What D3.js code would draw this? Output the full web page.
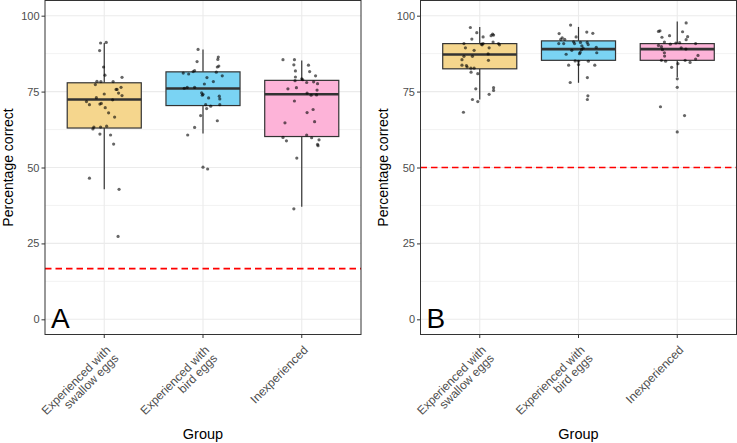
<!DOCTYPE html>
<html>
<head>
<meta charset="utf-8">
<script src="https://cdn.jsdelivr.net/npm/d3@7"></script>
<style>
  body { margin: 0; background: #fff; }
  svg { display: block; font-family: "Liberation Sans", Arial, sans-serif; }
</style>
</head>
<body>
<svg id="chart" width="737" height="443"></svg>
<script>
// groups and tick labels (each label split in lines)
const groups = ["swallow", "bird", "inexp"];
const groupLabels = [
  ["Experienced with", "swallow eggs"],
  ["Experienced with", "bird eggs"],
  ["Inexperienced"]
];
const fills = ["#F5D68D", "#7AD3F3", "#FDB3D8"];
const yTicks = [0, 25, 50, 75, 100];
const yMinor = [12.5, 37.5, 62.5, 87.5];

// chance level lines
const chanceA = 100 / 6;
const chanceB = 50;

// box stats: [lower whisker, q1, median, q3, upper whisker]
const boxA = [
  [42.8, 63.0, 72.4, 77.9, 91.0],
  [61.2, 70.4, 76.0, 81.5, 88.9],
  [37.1, 60.2, 74.1, 78.7, 85.2]
];
const boxB = [
  [72.4, 82.5, 87.2, 90.8, 96.3],
  [77.9, 85.3, 89.0, 91.7, 96.3],
  [79.8, 85.3, 89.0, 90.8, 98.1]
];

// jittered points: [horizontal jitter in category units, percentage correct]
const ptsA_swallow = [[-0.037,91.0],[0.02,91.2],[-0.047,88.5],[-0.007,83.1],[0.007,80.4],[0.18,79.7],
  [-0.074,78.4],[-0.034,78.3],[-0.09,77.3],[0.09,78.3],[0.17,76.4],[0.12,75.7],[0.13,75.7],[0.145,74.5],
  [0.18,73.7],[0,74.2],[-0.08,73.0],[-0.18,71.7],[-0.15,70.7],[-0.044,70.9],[-0.03,71.1],[0.085,72.3],
  [0.01,69.7],[0.044,68.0],[0.105,66.6],[-0.105,63.3],[-0.115,62.7],[-0.037,63.3],[0.024,63.6],
  [-0.044,61.0],[0.064,60.7],[0.095,57.7],[-0.15,46.5],[0.15,42.8],[0.14,27.3]];
const ptsA_bird = [[-0.05,88.9],[-0.06,84.9],[0.155,86.4],[0.15,85.6],[0.16,83.4],[0.145,83.1],
  [-0.2,81.1],[-0.145,80.8],[-0.085,81.9],[-0.1,81.6],[0.135,81.4],[0.195,80.2],[0.04,79.6],[0.105,78.3],
  [0.014,77.5],[-0.19,76.1],[-0.16,76.4],[-0.085,76.4],[-0.014,74.6],[0,74.1],[-0.007,73.8],[0.165,73.5],
  [0.17,72.6],[0.057,72.9],[0.027,70.7],[0.17,70.7],[0.078,70.2],[0.037,69.4],[-0.024,67.1],[0.145,65.4],
  [-0.085,63.2],[-0.155,60.7],[0,50.1],[0.047,49.5]];
const ptsA_inexp = [[-0.19,85.5],[-0.074,85.5],[-0.08,83.8],[-0.064,81.8],[0.068,83.7],[0.08,81.6],
  [-0.064,79.8],[-0.068,78.6],[0.14,80.2],[0,79.2],[0.01,78.9],[0.05,78.0],[0.12,78.2],[0.16,77.6],
  [-0.054,76.3],[-0.14,75.9],[0.155,75.5],[0.054,74.5],[0.095,73.8],[0.15,73.9],[-0.074,71.9],[0.115,69.1],
  [0.054,68.1],[0.13,65.1],[-0.17,64.7],[0.05,60.7],[-0.19,59.9],[-0.155,58.8],[0.1,59.8],[0.175,59.1],
  [0.16,57.6],[0.165,57.2],[-0.05,53.1],[-0.08,36.4]];

const ptsB_swallow = [[-0.095,96.1],[-0.03,94.4],[-0.08,92.3],[0.13,93.9],[0.14,93.6],[0.115,93.4],
  [0.034,93.0],[-0.16,90.8],[0.017,90.6],[0.034,90.8],[0.024,90.4],[0.135,91.3],[0.19,90.8],[0.2,90.4],
  [-0.145,89.4],[0.095,89.4],[-0.057,88.6],[0.085,87.4],[-0.16,86.6],[-0.18,85.5],[-0.074,86.6],[0.088,85.3],
  [-0.18,83.7],[-0.135,83.6],[-0.128,83.1],[-0.09,82.7],[-0.057,82.7],[-0.088,81.4],[-0.02,80.9],
  [-0.04,75.9],[0.14,76.3],[0.14,75.4],[0.095,74.1],[-0.074,72.4],[-0.02,71.7],[-0.165,68.2]];
const ptsB_bird = [[-0.08,96.9],[-0.196,94.1],[0.084,94.6],[0.145,94.2],[-0.165,92.7],[-0.18,92.2],
  [-0.14,92.2],[-0.024,93.0],[-0.2,90.8],[-0.15,90.8],[-0.05,91.4],[-0.04,90.8],[0.02,91.2],[0.088,91.2],
  [0.034,90.1],[0.03,88.8],[0.098,90.5],[0.18,89.6],[0.185,87.8],[0.047,89.3],[-0.068,88.6],[0.017,87.9],
  [0.01,87.5],[-0.125,87.3],[-0.034,85.1],[0,85.0],[0.1,85.0],[-0.1,83.7],[0,83.9],[0.165,83.7],
  [0.09,79.6],[-0.084,78.0],[0.095,73.6],[0.09,72.4]];
const ptsB_inexp = [[-0.175,95.0],[-0.19,94.8],[0.09,97.6],[-0.078,93.4],[-0.155,92.9],[0.105,93.1],
  [0.09,92.1],[0.054,94.7],[-0.13,91.3],[-0.19,90.2],[-0.16,89.8],[-0.07,90.6],[-0.014,91.0],[0.024,91.1],
  [0.04,89.4],[0.088,89.0],[0.186,90.8],[-0.15,88.8],[-0.13,87.8],[-0.128,86.7],[0.21,86.9],[0.186,85.7],
  [0.08,85.3],[-0.16,85.3],[-0.118,85.0],[0.13,84.6],[0.007,84.2],[-0.057,83.0],[0,79.2],[0,76.4],
  [-0.17,70.0],[0.074,67.1],[0,61.7]];

const svg = d3.select("#chart");

function drawPanel(opt) {
  const x = d3.scaleLinear().domain([0.4, 3.6]).range([opt.left, opt.right]);
  const y = d3.scaleLinear().domain([-5, 105]).range([opt.bottom, opt.top]);
  const g = svg.append("g");

  // grid
  g.selectAll(".minor").data(yMinor).join("line")
    .attr("x1", opt.left).attr("x2", opt.right)
    .attr("y1", d => y(d)).attr("y2", d => y(d))
    .attr("stroke", "#EBEBEB").attr("stroke-width", 0.6);
  g.selectAll(".major").data(yTicks).join("line")
    .attr("x1", opt.left).attr("x2", opt.right)
    .attr("y1", d => y(d)).attr("y2", d => y(d))
    .attr("stroke", "#EBEBEB").attr("stroke-width", 1.1);
  g.selectAll(".vmajor").data(groups).join("line")
    .attr("x1", (d, i) => x(i + 1)).attr("x2", (d, i) => x(i + 1))
    .attr("y1", opt.top).attr("y2", opt.bottom)
    .attr("stroke", "#EBEBEB").attr("stroke-width", 1.1);

  // boxes
  const bw = 0.75;
  opt.box.forEach((s, i) => {
    const cx = x(i + 1);
    g.append("line").attr("x1", cx).attr("x2", cx).attr("y1", y(s[4])).attr("y2", y(s[3]))
      .attr("stroke", "#333").attr("stroke-width", 1.2);
    g.append("line").attr("x1", cx).attr("x2", cx).attr("y1", y(s[1])).attr("y2", y(s[0]))
      .attr("stroke", "#333").attr("stroke-width", 1.2);
    g.append("rect")
      .attr("x", x(i + 1 - bw / 2)).attr("width", x(i + 1 + bw / 2) - x(i + 1 - bw / 2))
      .attr("y", y(s[3])).attr("height", y(s[1]) - y(s[3]))
      .attr("fill", fills[i]).attr("stroke", "#333").attr("stroke-width", 1.2);
    g.append("line").attr("x1", x(i + 1 - bw / 2)).attr("x2", x(i + 1 + bw / 2))
      .attr("y1", y(s[2])).attr("y2", y(s[2]))
      .attr("stroke", "#333").attr("stroke-width", 2.6);
  });

  // jitter points
  opt.points.forEach((pts, i) => {
    g.selectAll(null).data(pts).join("circle")
      .attr("cx", d => x(i + 1 + d[0])).attr("cy", d => y(d[1]))
      .attr("r", 1.6).attr("fill", "#000").attr("fill-opacity", 0.6);
  });

  // chance line
  g.append("line").attr("x1", opt.left).attr("x2", opt.right)
    .attr("y1", y(opt.chance)).attr("y2", y(opt.chance))
    .attr("stroke", "#FF0000").attr("stroke-width", 1.7).attr("stroke-dasharray", "6.5,4");

  // panel border
  g.append("rect").attr("x", opt.left).attr("y", opt.top)
    .attr("width", opt.right - opt.left).attr("height", opt.bottom - opt.top)
    .attr("fill", "none").attr("stroke", "#333").attr("stroke-width", 1);

  // y axis
  const yAxis = g.append("g").attr("transform", `translate(${opt.left},0)`)
    .call(d3.axisLeft(y).tickValues(yTicks).tickSize(3.5).tickPadding(2));
  yAxis.select(".domain").remove();
  yAxis.selectAll("line").attr("stroke", "#333");
  yAxis.selectAll("text").attr("fill", "#4D4D4D").style("font-size", "11px")
    .style("font-family", "'Liberation Sans', Arial, sans-serif");

  // x axis ticks
  g.selectAll(".xt").data(groups).join("line")
    .attr("x1", (d, i) => x(i + 1)).attr("x2", (d, i) => x(i + 1))
    .attr("y1", opt.bottom).attr("y2", opt.bottom + 3.5)
    .attr("stroke", "#333");

  groupLabels.forEach((lines, i) => {
    const t = g.append("g")
      .attr("transform", `translate(${x(i + 1) + 0.5},${opt.bottom + 10}) rotate(-45)`)
      .append("text").attr("text-anchor", "end")
      .attr("fill", "#4D4D4D").style("font-size", "12px");
    lines.forEach((ln, j) => {
      t.append("tspan").attr("x", 0).attr("y", 9 + j * 11.5).text(ln);
    });
  });

  // titles
  g.append("text").attr("x", x(2)).attr("y", 438.5).attr("text-anchor", "middle")
    .style("font-size", "14.5px").attr("fill", "#000").text("Group");
  g.append("text")
    .attr("transform", `translate(${opt.left - 32.5},${(opt.top + opt.bottom) / 2}) rotate(-90)`)
    .attr("text-anchor", "middle").style("font-size", "14px").attr("fill", "#000")
    .text("Percentage correct");

  // panel letter
  g.append("text").attr("x", opt.left + 6).attr("y", 328)
    .style("font-size", "28px").attr("fill", "#000").text(opt.letter);
}

drawPanel({
  left: 45, right: 361, top: 0.5, bottom: 334.5,
  box: boxA, points: [ptsA_swallow, ptsA_bird, ptsA_inexp],
  chance: chanceA, letter: "A"
});
drawPanel({
  left: 420.5, right: 736.5, top: 0.5, bottom: 334.5,
  box: boxB, points: [ptsB_swallow, ptsB_bird, ptsB_inexp],
  chance: chanceB, letter: "B"
});
</script>
</body>
</html>
